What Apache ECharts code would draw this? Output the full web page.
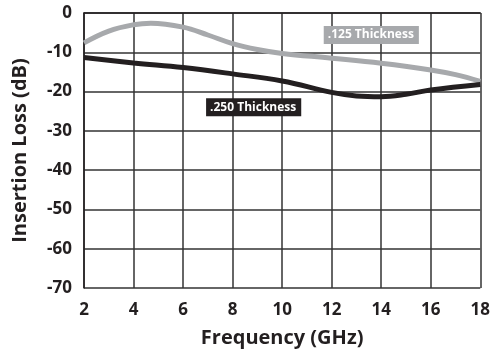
<!DOCTYPE html>
<html>
<head>
<meta charset="utf-8">
<script src="https://cdn.jsdelivr.net/npm/echarts@6/dist/echarts.min.js"></script>
<style>
  html, body { margin: 0; padding: 0; background: #fff; }
  #chart { width: 493px; height: 353px; }
</style>
</head>
<body>
<div id="chart"></div>
<script>
// frequency points (GHz) and insertion loss (dB)
const freq125 = [2, 3, 4, 4.7, 6, 7, 8, 9, 10, 12, 14, 16, 17, 18]
const loss125 = [-7.6, -4.6, -3.0, -2.6, -3.6, -5.6, -7.8, -9.3, -10.3, -11.5, -12.8, -14.5, -15.7, -17.4]

const freq250 = [2, 4, 6, 8, 10, 12, 13, 14, 15, 16, 18]
const loss250 = [-11.3, -12.7, -13.9, -15.5, -17.3, -20.2, -21.1, -21.3, -20.7, -19.6, -18.2]

const xTicks = [2, 4, 6, 8, 10, 12, 14, 16, 18]
const yTicks = [0, -10, -20, -30, -40, -50, -60, -70]

const labelAt125 = [13.6, -5.6]
const labelAt250 = [8.85, -24.0]

const font = '"Open Sans", "DejaVu Sans", sans-serif'

const chart = echarts.init(document.getElementById('chart'))

const pairs = (xs, ys) => xs.map((x, i) => [x, ys[i]])

const tagPoint = (coord, text, bg) => ({
  symbol: 'rect',
  symbolSize: 0,
  silent: true,
  data: [{
    coord: coord,
    label: {
      show: true,
      position: 'inside',
      formatter: text,
      color: '#fff',
      fontFamily: font,
      fontWeight: 'bold',
      fontSize: 12,
      backgroundColor: bg,
      padding: [3, 5, 3, 4]
    }
  }]
})

chart.setOption({
  animation: false,
  grid: { left: 84, top: 13, right: 11, bottom: 64 },
  xAxis: {
    type: 'value',
    min: xTicks[0],
    max: xTicks[xTicks.length - 1],
    interval: 2,
    name: 'Frequency (GHz)',
    nameLocation: 'middle',
    nameGap: 40,
    nameTextStyle: { fontFamily: font, fontWeight: 'bold', fontSize: 20, color: '#231f20' },
    axisLine: { lineStyle: { color: '#231f20', width: 1.5 } },
    axisTick: { show: false },
    axisLabel: { fontFamily: font, fontWeight: 'bold', fontSize: 17, color: '#231f20', margin: 14 },
    splitLine: { show: true, lineStyle: { color: '#333', width: 1.5 } }
  },
  yAxis: {
    type: 'value',
    min: yTicks[yTicks.length - 1],
    max: yTicks[0],
    interval: 10,
    name: 'Insertion Loss (dB)',
    nameLocation: 'middle',
    nameGap: 54,
    nameTextStyle: { fontFamily: font, fontWeight: 'bold', fontSize: 20, color: '#231f20' },
    axisLine: { show: true, lineStyle: { color: '#231f20', width: 1.5 } },
    axisTick: { show: false },
    axisLabel: { fontFamily: font, fontWeight: 'bold', fontSize: 17, color: '#231f20', margin: 12 },
    splitLine: { show: true, lineStyle: { color: '#333', width: 1.5 } }
  },
  series: [
    {
      name: '.125 Thickness',
      type: 'line',
      data: pairs(freq125, loss125),
      smooth: 0.4,
      showSymbol: false,
      lineStyle: { color: '#a7a9ac', width: 5 },
      markPoint: tagPoint(labelAt125, '.125 Thickness', '#a7a9ac')
    },
    {
      name: '.250 Thickness',
      type: 'line',
      data: pairs(freq250, loss250),
      smooth: 0.4,
      showSymbol: false,
      lineStyle: { color: '#231f20', width: 5 },
      markPoint: tagPoint(labelAt250, '.250 Thickness', '#231f20')
    }
  ]
})
</script>
</body>
</html>
